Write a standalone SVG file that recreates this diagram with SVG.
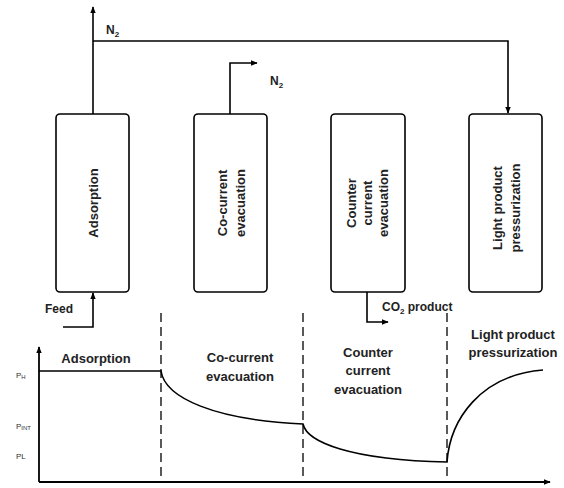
<svg xmlns="http://www.w3.org/2000/svg" width="564" height="488" viewBox="0 0 564 488">
<defs>
<marker id="ah" viewBox="0 0 10 10" refX="9" refY="5" markerWidth="7" markerHeight="7" orient="auto-start-reverse" markerUnits="userSpaceOnUse">
<path d="M0,1 L10,5 L0,9 Z" fill="#000"/>
</marker>
<style>
.box{fill:#fff;stroke:#000;stroke-width:1.6}
.ln{fill:none;stroke:#000;stroke-width:1.6}
.ax{fill:none;stroke:#000;stroke-width:1.8}
.dash{fill:none;stroke:#000;stroke-width:1.3;stroke-dasharray:9,5}
.t{font-family:"Liberation Sans",Arial,sans-serif;font-weight:bold;font-size:13px;fill:#222}
.s{font-family:"Liberation Sans",Arial,sans-serif;font-weight:bold;font-size:12px;fill:#222}
.y{font-family:"Liberation Sans",Arial,sans-serif;font-size:8px;fill:#333}
</style>
</defs>
<rect width="564" height="488" fill="#fff"/>

<g id="connectors">
<path class="ln" d="M93,114 V7" marker-end="url(#ah)"/>
<path class="ln" d="M93,41 H508 V113" marker-end="url(#ah)"/>
<path class="ln" d="M230,114 V63 H257" marker-end="url(#ah)"/>
<path class="ln" d="M63,327 H93 V293" marker-end="url(#ah)"/>
<path class="ln" d="M367,292 V322 H388" marker-end="url(#ah)"/>
</g>

<g id="labels">
<text class="s" x="106" y="34">N<tspan font-size="8" dy="3">2</tspan></text>
<text class="s" x="270" y="85">N<tspan font-size="8" dy="3">2</tspan></text>
<text class="s" x="45" y="313">Feed</text>
<text class="s" x="382" y="311">CO<tspan font-size="8" dy="3">2</tspan><tspan dy="-3"> product</tspan></text>
</g>

<g id="adsorption">
<rect class="box" x="56" y="114" width="73" height="178" rx="4"/>
<text class="t" text-anchor="middle" dominant-baseline="central" transform="translate(93,203) rotate(-90)">Adsorption</text>
</g>
<g id="cocurrent">
<rect class="box" x="194" y="114" width="73" height="178" rx="4"/>
<text class="t" text-anchor="middle" dominant-baseline="central" transform="translate(222,203) rotate(-90)">Co-current</text>
<text class="t" text-anchor="middle" dominant-baseline="central" transform="translate(240,203) rotate(-90)">evacuation</text>
</g>
<g id="countercurrent">
<rect class="box" x="331" y="114" width="74" height="178" rx="4"/>
<text class="t" text-anchor="middle" dominant-baseline="central" transform="translate(351,203) rotate(-90)">Counter</text>
<text class="t" text-anchor="middle" dominant-baseline="central" transform="translate(367,203) rotate(-90)">current</text>
<text class="t" text-anchor="middle" dominant-baseline="central" transform="translate(383,203) rotate(-90)">evacuation</text>
</g>
<g id="lightproduct">
<rect class="box" x="469" y="114" width="73" height="178" rx="4"/>
<text class="t" text-anchor="middle" dominant-baseline="central" transform="translate(497,208) rotate(-90)">Light product</text>
<text class="t" text-anchor="middle" dominant-baseline="central" transform="translate(515,208) rotate(-90)">pressurization</text>
</g>

<g id="chart">
<path class="ax" d="M39,482 V347" marker-end="url(#ah)"/>
<path class="ax" d="M39,482 H550" marker-end="url(#ah)"/>
<path class="dash" d="M161,313 V482"/>
<path class="dash" d="M303,313 V482"/>
<path class="dash" d="M447,313 V482"/>
<path class="ln" d="M39,371 H161 C165,398 215,420 303,424 C307,442 350,460 447,462 C450,420 480,375 543,370"/>
<text class="y" x="16" y="378">P<tspan font-size="6" dy="1">H</tspan></text>
<text class="y" x="16" y="429">P<tspan font-size="6" dy="1">INT</tspan></text>
<text class="y" x="16" y="459">PL</text>
<text class="t" text-anchor="middle" x="96" y="363">Adsorption</text>
<text class="t" text-anchor="middle" x="240" y="362">Co-current</text>
<text class="t" text-anchor="middle" x="240" y="381">evacuation</text>
<text class="t" text-anchor="middle" x="368" y="357">Counter</text>
<text class="t" text-anchor="middle" x="368" y="375">current</text>
<text class="t" text-anchor="middle" x="368" y="394">evacuation</text>
<text class="t" text-anchor="middle" x="513" y="339">Light product</text>
<text class="t" text-anchor="middle" x="513" y="357">pressurization</text>
</g>
</svg>
